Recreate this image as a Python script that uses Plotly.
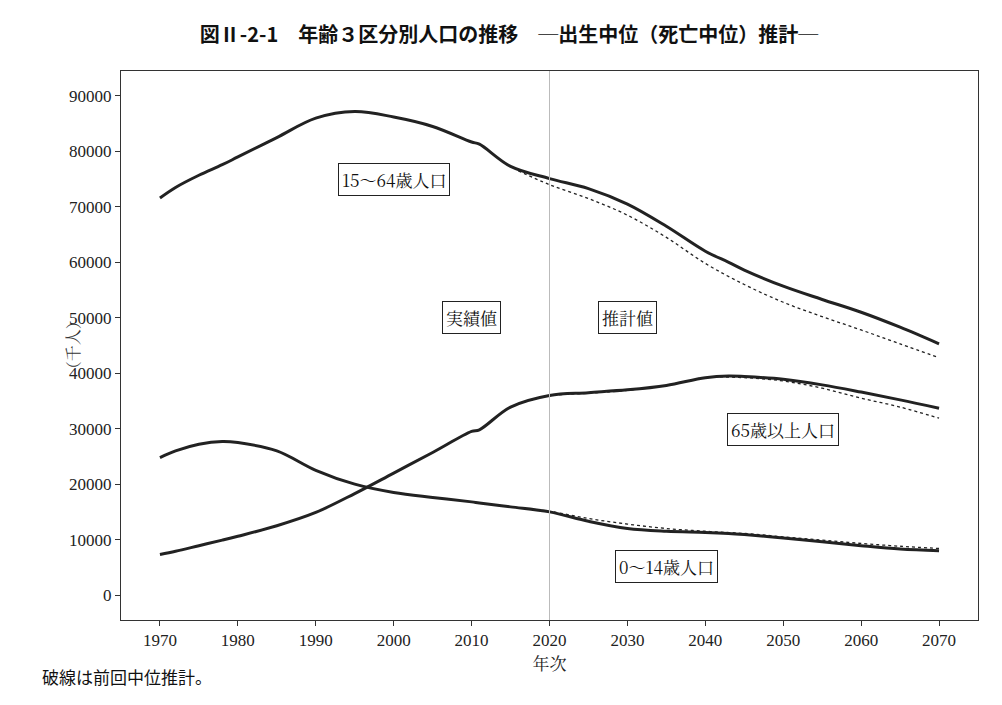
import plotly.graph_objects as go

years = [1970,1972,1975,1978,1980,1985,1990,1995,2000,2005,2010,2011,2015,2020,2025,2030,2035,2040,2043,2045,2050,2055,2060,2065,2070]
p1564 = [71600,73500,75700,77600,79000,82500,86000,87200,86200,84500,81700,81300,77300,75100,73300,70500,66500,62000,60000,58600,55700,53300,51000,48300,45300]
p65 = [7300,7900,8900,9900,10600,12500,14900,18300,22000,25700,29500,29800,33900,36000,36500,37000,37800,39200,39500,39400,38900,37900,36600,35200,33700]
p014 = [24800,26000,27200,27700,27500,26000,22500,20000,18500,17600,16800,16600,15900,15000,13300,12000,11500,11300,11100,10900,10300,9600,8900,8300,8000]

prev_years = [2016,2020,2025,2030,2035,2040,2045,2050,2055,2060,2065,2070]
prev1564 = [76500,74000,71500,68500,64500,59800,56000,52800,50200,47800,45300,42800]
prev65 = [34500,35900,36400,36900,37800,39200,39200,38600,37300,35500,33900,31900]
prev014 = [15700,15100,13800,12800,12000,11500,11100,10500,9900,9300,8800,8400]

fig = go.Figure()
for y in [p1564, p65, p014]:
    fig.add_trace(go.Scatter(x=years, y=y, mode="lines", line=dict(color="#222", width=3, shape="spline"), showlegend=False))
for y in [prev1564, prev65, prev014]:
    fig.add_trace(go.Scatter(x=prev_years, y=y, mode="lines", line=dict(color="#222", width=1.3, dash="dot", shape="spline"), showlegend=False))

fig.add_vline(x=2020, line=dict(color="#bbb", width=1))

labels = [("15〜64歳人口",2000,75000),("実績値",2010,50000),("推計値",2030,50000),("65歳以上人口",2050,29900),("0〜14歳人口",2035,5100)]
for t,x,y in labels:
    fig.add_annotation(x=x,y=y,text=t,showarrow=False,bordercolor="#222",borderwidth=1,bgcolor="white",borderpad=3,
                       font=dict(family="Noto Serif CJK JP, Liberation Serif, serif",size=17,color="#111"))

fig.add_annotation(xref="paper",yref="paper",x=-0.072,y=0.5,text="（千人）",textangle=-90,showarrow=False,
                   font=dict(family="Noto Serif CJK JP, serif",size=16,color="#333"))
fig.add_annotation(xref="paper",yref="paper",x=-0.095,y=-0.13,xanchor="left",text="破線は前回中位推計。",showarrow=False,
                   font=dict(family="Noto Sans CJK JP",size=17,color="#111"))

fig.update_layout(
    width=1002,height=705,plot_bgcolor="white",paper_bgcolor="white",
    margin=dict(l=113,r=32,t=63,b=93,autoexpand=False),
    title=dict(text="<b>図Ⅱ-2-1　年齢３区分別人口の推移　─出生中位（死亡中位）推計─</b>",x=0.5,y=0.972,xanchor="center",
               font=dict(family="Noto Sans CJK JP",size=20,color="#111")),
    xaxis=dict(range=[1965,2075],tickvals=list(range(1970,2071,10)),showgrid=False,showline=True,mirror=True,linecolor="#333",
               ticks="outside",ticklen=5,tickcolor="#333",automargin=False,
               title=dict(text="年次",standoff=0,font=dict(family="Noto Serif CJK JP, serif",size=17,color="#222")),
               tickfont=dict(family="Liberation Serif, serif",size=17,color="#222"),zeroline=False),
    yaxis=dict(range=[-4500,94500],tickvals=list(range(0,90001,10000)),tickformat="d",showgrid=False,showline=True,mirror=True,linecolor="#333",
               ticks="outside",ticklen=5,tickcolor="#333",automargin=False,
               tickfont=dict(family="Liberation Serif, serif",size=17,color="#222"),zeroline=False),
)
fig.write_html("out.html")
